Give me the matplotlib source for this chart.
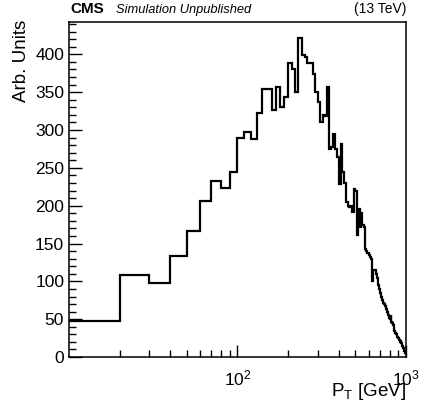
import numpy as np
import matplotlib.pyplot as plt
from matplotlib.ticker import MultipleLocator, LogLocator, NullFormatter

plt.rcParams['font.family'] = ['Liberation Sans', 'DejaVu Sans']

# bin edges in GeV (10 GeV wide bins from 10 to 1000)
bin_edges = np.arange(10, 1001, 10)

# histogram contents, one per bin
counts = [
    48, 108, 98, 134, 167, 206, 233, 224, 244,          # 10 - 100
    290, 298, 288, 323, 354, 354, 326, 357, 330, 343,   # 100 - 200
    388, 380, 350, 422, 399, 396, 388, 388, 374, 350,   # 200 - 300
    337, 310, 320, 318, 357, 275, 277, 295, 275, 264,   # 300 - 400
    229, 282, 245, 230, 205, 200, 198, 200, 192, 222,   # 400 - 500
    220, 161, 196, 172, 190, 175, 172, 143, 140, 138,   # 500 - 600
    135, 132, 130, 100, 115, 115, 110, 105, 95, 90,     # 600 - 700
    85, 80, 76, 72, 70, 67, 64, 60, 55, 52,             # 700 - 800
    50, 56, 46, 45, 42, 35, 32, 30, 28, 27,             # 800 - 900
    25, 22, 20, 22, 18, 15, 12, 10, 8, 6,               # 900 - 1000
]

fig = plt.figure(figsize=(4.22, 4.09), dpi=100)
ax = fig.add_axes([0.1635, 0.127, 0.7985, 0.820])

ax.stairs(counts, bin_edges, color='black', linewidth=1.6, baseline=None)

ax.set_xscale('log')
ax.set_xlim(10, 1000)
ax.set_ylim(0, 1.05 * max(counts))

ax.set_xticks([100, 1000])
ax.xaxis.set_minor_locator(LogLocator(base=10, subs=np.arange(2, 10)))
ax.xaxis.set_minor_formatter(NullFormatter())
ax.yaxis.set_major_locator(MultipleLocator(50))
ax.yaxis.set_minor_locator(MultipleLocator(10))

ax.tick_params(which='both', direction='in', top=False, right=False, labelsize=12.5)
ax.tick_params(which='major', length=9, width=1)
ax.tick_params(which='minor', length=5, width=1)
ax.tick_params(axis='x', pad=8)
for s in ax.spines.values():
    s.set_linewidth(1.1)

ax.set_xlabel(r'P$_{\mathregular{T}}$ [GeV]', fontsize=13.5, loc='right', labelpad=-5)
fig.text(0.051, 0.951, 'Arb. Units', rotation=90, ha='center', va='top', fontsize=13.5)

fig.text(0.166, 0.969, 'CMS', fontsize=11, fontweight='bold', va='baseline')
fig.text(0.275, 0.969, 'Simulation Unpublished', fontsize=9.3, style='italic', va='baseline')
fig.text(0.962, 0.969, '(13 TeV)', fontsize=10, ha='right', va='baseline')

fig.savefig('out.png', dpi=100)
